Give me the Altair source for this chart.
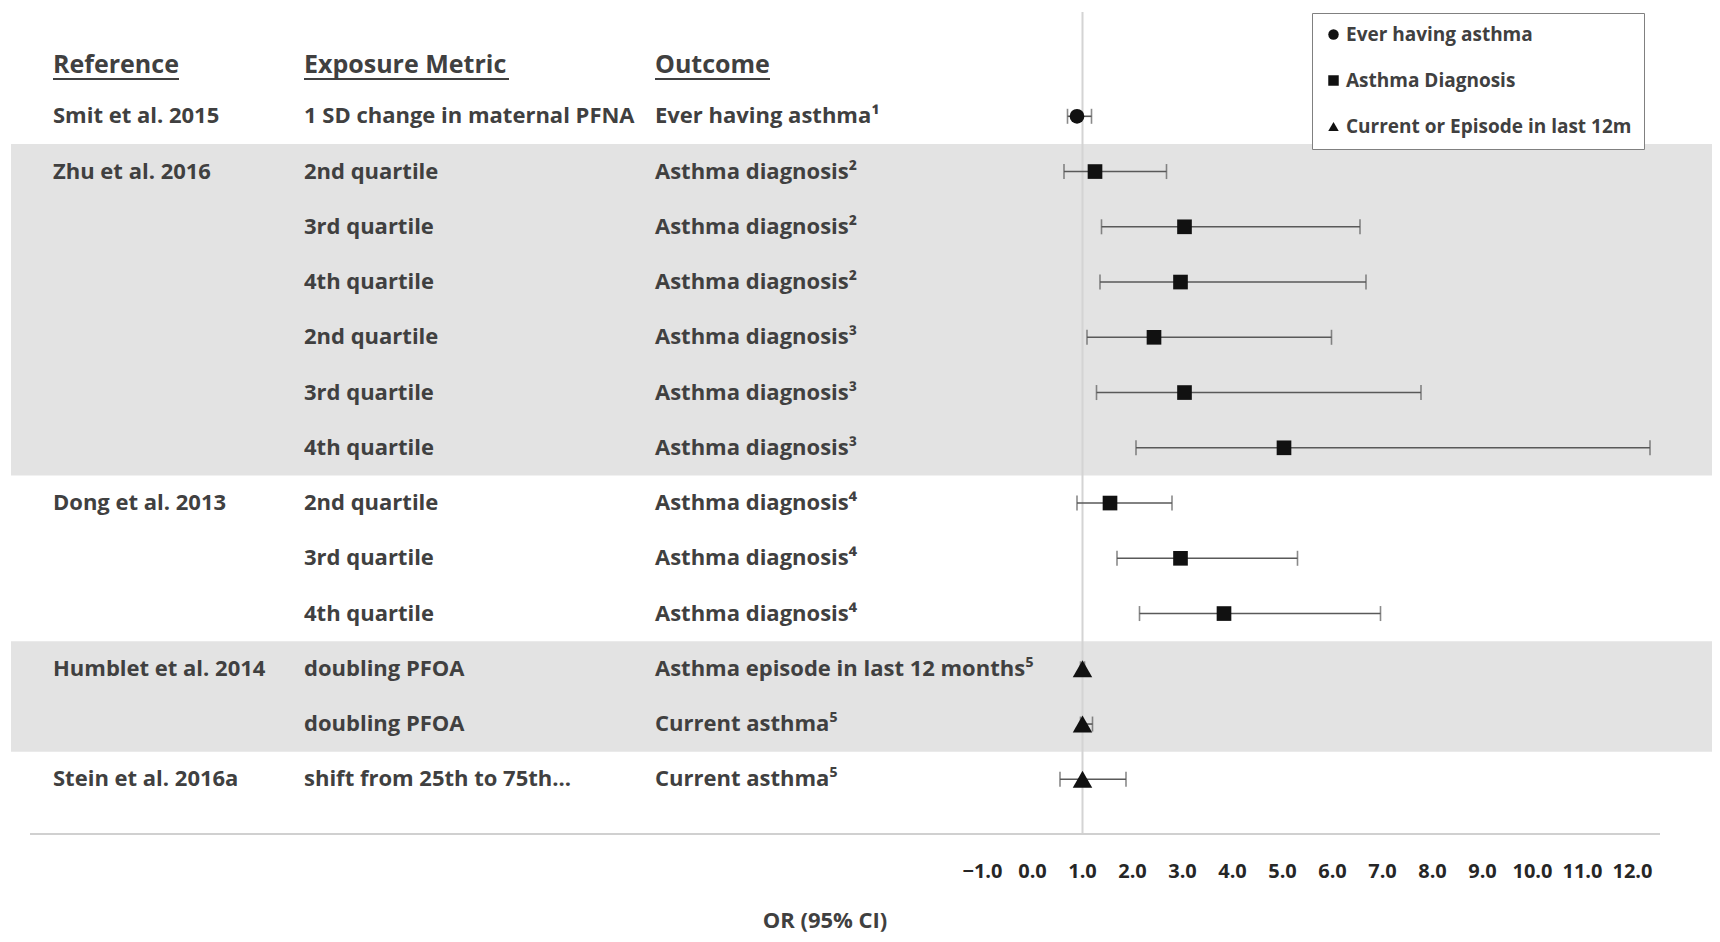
import altair as alt
import pandas as pd

# ---------------- data ----------------
references = ["Smit et al. 2015", "Zhu et al. 2016", "", "", "", "", "",
              "Dong et al. 2013", "", "", "Humblet et al. 2014", "", "Stein et al. 2016a"]
exposures = ["1 SD change in maternal PFNA", "2nd quartile", "3rd quartile", "4th quartile",
             "2nd quartile", "3rd quartile", "4th quartile",
             "2nd quartile", "3rd quartile", "4th quartile",
             "doubling PFOA", "doubling PFOA", "shift from 25th to 75th..."]
outcomes = ["Ever having asthma¹", "Asthma diagnosis²", "Asthma diagnosis²", "Asthma diagnosis²",
            "Asthma diagnosis³", "Asthma diagnosis³", "Asthma diagnosis³",
            "Asthma diagnosis⁴", "Asthma diagnosis⁴", "Asthma diagnosis⁴",
            "Asthma episode in last 12 months⁵", "Current asthma⁵", "Current asthma⁵"]
outcome_type = ["Ever having asthma"] + ["Asthma Diagnosis"] * 9 + ["Current or Episode in last 12m"] * 3
or_est = [0.89, 1.25, 3.04, 2.96, 2.43, 3.04, 5.03, 1.55, 2.96, 3.83, 1.00, 1.00, 1.00]
ci_low = [0.70, 0.63, 1.38, 1.35, 1.09, 1.28, 2.07, 0.89, 1.69, 2.14, 0.96, 0.96, 0.55]
ci_high = [1.18, 2.68, 6.55, 6.67, 5.98, 7.77, 12.35, 2.79, 5.30, 6.96, 1.04, 1.20, 1.87]

band_first_row = [2, 11]
band_last_row = [7, 12]
null_value = [1.0]
tick_values = [-1, 0, 1, 2, 3, 4, 5, 6, 7, 8, 9, 10, 11, 12]
headers = ["Reference", "Exposure Metric", "Outcome"]
legend_labels = ["Ever having asthma", "Asthma Diagnosis", "Current or Episode in last 12m"]
legend_shapes = ["circle", "square", "triangle-up"]
axis_title = ["OR (95% CI)"]

rows = list(range(1, len(references) + 1))
df = pd.DataFrame({
    "row": rows, "reference": references, "exposure": exposures, "outcome": outcomes,
    "otype": outcome_type, "or": or_est, "lo": ci_low, "hi": ci_high,
})
bands = pd.DataFrame({"first": band_first_row, "last": band_last_row})
nulls = pd.DataFrame({"v": null_value})
ticks = pd.DataFrame({"v": tick_values})

# ---------------- layout / style ----------------
W, H = 1704, 926
FONT = "Open Sans"
TXT = "#404040"
xs = alt.Scale(domain=[-1, 12], range=[974.5, 1624.5], nice=False, zero=False)
ys = alt.Scale(domain=[1, 13], range=[108.3, 771.3], nice=False, zero=False)

band_layer = alt.Chart(bands).transform_calculate(
    y0="datum.first - 0.5", y1="datum.last + 0.5"
).mark_rect(color="#e3e3e3").encode(
    x=alt.value(3), x2=alt.value(W),
    y=alt.Y("y0:Q", scale=ys, axis=None), y2="y1:Q",
)

null_line = alt.Chart(nulls).mark_rule(color="#d4d4d4", strokeWidth=2).encode(
    x=alt.X("v:Q", scale=xs, axis=None), y=alt.value(4), y2=alt.value(826),
)

axis_line = alt.Chart(nulls).mark_rule(color="#d0d0d0", strokeWidth=2).encode(
    x=alt.value(22), x2=alt.value(1652), y=alt.value(826),
)

def col_text(field, xpx):
    return alt.Chart(df).mark_text(
        align="left", baseline="middle", font=FONT, fontSize=22,
        fontWeight="bold", color=TXT,
    ).encode(x=alt.value(xpx), y=alt.Y("row:Q", scale=ys, axis=None), text=f"{field}:N")

col_x = [45, 296, 647]
ul_w = [126, 205, 115]
header_layers = []
for h, xpx, w in zip(headers, col_x, ul_w):
    hd = pd.DataFrame({"h": [h]})
    header_layers.append(alt.Chart(hd).mark_text(
        align="left", baseline="middle", font=FONT, fontSize=25,
        fontWeight="bold", color=TXT,
    ).encode(x=alt.value(xpx), y=alt.value(57), text="h:N"))
    header_layers.append(alt.Chart(hd).mark_rule(color=TXT, strokeWidth=2).encode(
        x=alt.value(xpx), x2=alt.value(xpx + w), y=alt.value(71)))

err_color = "#595959"
ci_rule = alt.Chart(df).mark_rule(color=err_color, strokeWidth=1.6).encode(
    x=alt.X("lo:Q", scale=xs, axis=None), x2="hi:Q",
    y=alt.Y("row:Q", scale=ys, axis=None),
)
cap_lo = alt.Chart(df).mark_tick(orient="vertical", color=err_color, size=15, thickness=1.6).encode(
    x=alt.X("lo:Q", scale=xs, axis=None), y=alt.Y("row:Q", scale=ys, axis=None),
)
cap_hi = alt.Chart(df).mark_tick(orient="vertical", color=err_color, size=15, thickness=1.6).encode(
    x=alt.X("hi:Q", scale=xs, axis=None), y=alt.Y("row:Q", scale=ys, axis=None),
)

shape_enc = alt.Shape(
    "otype:N", scale=alt.Scale(domain=legend_labels, range=legend_shapes),
    legend=alt.Legend(
        title=None, orient="none", legendX=1304, legendY=5,
        strokeColor="#808080", fillColor="white", padding=12,
        labelFont=FONT, labelFontSize=19, labelFontWeight="bold",
        labelColor=TXT, labelLimit=500, symbolSize=110,
        symbolFillColor="#000000", symbolStrokeWidth=0,
        rowPadding=26, labelOffset=3,
    ),
)

points_main = alt.Chart(df).transform_filter(
    alt.datum.otype != legend_labels[2]
).mark_point(filled=True, opacity=1, color="#111111", size=215).encode(
    x=alt.X("or:Q", scale=xs, axis=None),
    y=alt.Y("row:Q", scale=ys, axis=None),
    shape=shape_enc,
)
points_tri = alt.Chart(df).transform_filter(
    alt.datum.otype == legend_labels[2]
).mark_point(filled=True, opacity=1, color="#111111", size=380).encode(
    x=alt.X("or:Q", scale=xs, axis=None),
    y=alt.Y("row:Q", scale=ys, axis=None),
    shape=shape_enc,
)

tick_labels = alt.Chart(ticks).mark_text(
    font=FONT, fontSize=20, fontWeight="bold", color="#262626", baseline="middle",
).encode(
    x=alt.X("v:Q", scale=xs, axis=None), y=alt.value(864),
    text=alt.Text("v:Q", format=".1f"),
)

title_text = alt.Chart(pd.DataFrame({"t": axis_title})).mark_text(
    font=FONT, fontSize=22, fontWeight="bold", color=TXT, baseline="middle",
).encode(x=alt.value(817), y=alt.value(913), text="t:N")

chart = alt.layer(
    band_layer, null_line, axis_line,
    col_text("reference", col_x[0]), col_text("exposure", col_x[1]), col_text("outcome", col_x[2]),
    *header_layers,
    ci_rule, cap_lo, cap_hi, points_main, points_tri,
    tick_labels, title_text,
).properties(
    width=W, height=H, padding=0,
    autosize=alt.AutoSizeParams(type="none"),
).configure_view(stroke=None)

chart.save("out.html", embed_options={"renderer": "svg", "actions": False})
